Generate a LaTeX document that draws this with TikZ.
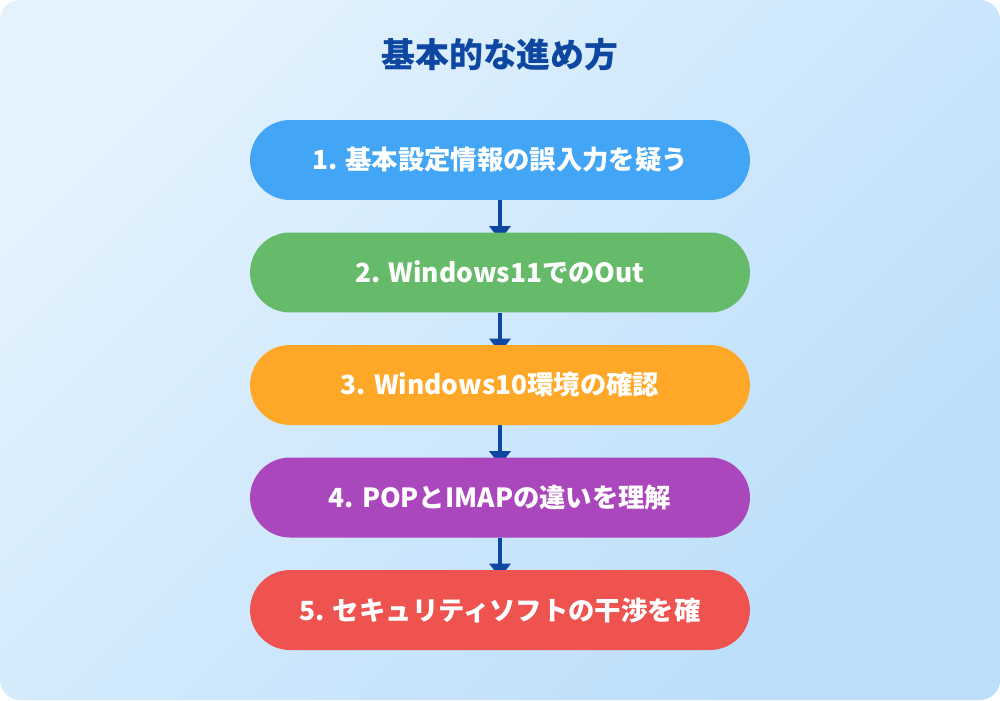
\documentclass[tikz,border=0pt]{standalone}
\usepackage{fontspec}
\setmainfont{Noto Sans CJK JP}
\usepackage{xcolor}
\usepackage{tikz}
\usetikzlibrary{arrows.meta, backgrounds}

\definecolor{bgA}{HTML}{E3F2FD}
\definecolor{bgB}{HTML}{BBDEFB}
\definecolor{titleblue}{HTML}{0D47A1}
\definecolor{stepblue}{HTML}{42A5F5}
\definecolor{stepgreen}{HTML}{66BB6A}
\definecolor{steporange}{HTML}{FFA726}
\definecolor{steppurple}{HTML}{AB47BC}
\definecolor{stepred}{HTML}{EF5350}

\begin{document}
\begin{tikzpicture}[x=0.02cm, y=-0.02cm,
    stepbox/.style={rounded corners=0.8cm, minimum width=10cm,
        minimum height=1.6cm, inner sep=0pt, text=white,
        font=\fontsize{15}{17}\selectfont\bfseries},
    flow/.style={draw=titleblue, line width=1.8pt, shorten >=-0.16cm,
        -{Triangle[width=0.42cm, length=0.28cm]}}]
    \useasboundingbox (0,0) rectangle (1000,700);
    \begin{scope}[on background layer]
        \shade[rounded corners=0.4cm, top color=bgA, bottom color=bgB,
            shading angle=45] (0,0) rectangle (1000,700);
    \end{scope}

    \node[text=titleblue, font=\fontsize{19.3}{21}\selectfont\bfseries] (T) at (500,55) {基本的な進め方};

    \node[stepbox, fill=stepblue] (A) at (500,160) {1. 基本設定情報の誤入力を疑う};
    \node[stepbox, fill=stepgreen] (B) at (500,272.5) {2. Windows11でのOut};
    \node[stepbox, fill=steporange] (C) at (500,385) {3. Windows10環境の確認};
    \node[stepbox, fill=steppurple] (D) at (500,497.5) {4. POPとIMAPの違いを理解};
    \node[stepbox, fill=stepred] (E) at (500,610) {5. セキュリティソフトの干渉を確};

    \begin{scope}[on background layer]
        \draw[flow] (A) -- (B);
        \draw[flow] (B) -- (C);
        \draw[flow] (C) -- (D);
        \draw[flow] (D) -- (E);
    \end{scope}
\end{tikzpicture}
\end{document}
